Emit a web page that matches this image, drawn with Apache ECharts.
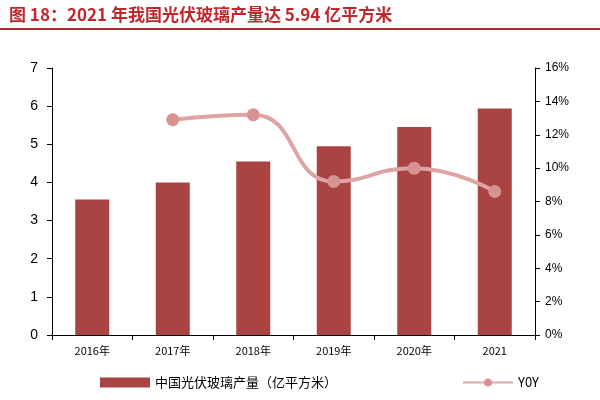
<!DOCTYPE html>
<html><head><meta charset="utf-8">
<script src="https://cdn.jsdelivr.net/npm/echarts@6/dist/echarts.min.js"></script>
<style>body{margin:0}#c{width:600px;height:400px}</style></head>
<body><div id="c"></div>
<script>
const categories = ['2016年','2017年','2018年','2019年','2020年','2021'];
const output = [3.55, 4.0, 4.55, 4.95, 5.45, 5.94];
const yoy = [null, 12.9, 13.2, 9.2, 10.0, 8.6];
const leftTicks = [0,1,2,3,4,5,6,7];
const chart = echarts.init(document.getElementById('c'));
const font = '"Noto Sans CJK SC", sans-serif';
chart.setOption({
  animation:false,
  title:{text:'图 18：2021 年我国光伏玻璃产量达 5.94 亿平方米',left:4,top:1,
    textStyle:{color:'#c0282d',fontSize:17,fontWeight:'bold',fontFamily:font}},
  graphic:[{type:'line',shape:{x1:0,y1:29,x2:600,y2:29},style:{stroke:'#a52a2a',lineWidth:2}}],
  grid:{left:52,right:65,top:68,bottom:65},
  legend:{bottom:6,left:95,itemGap:125,textStyle:{fontSize:13,fontFamily:font,color:'#000'},
    data:[{name:'中国光伏玻璃产量（亿平方米）',icon:'rect'},{name:'Y0Y'}],itemWidth:50,itemHeight:10},
  xAxis:{type:'category',data:categories,
    axisLine:{lineStyle:{color:'#000'}},axisTick:{show:true,length:5,lineStyle:{color:'#000'}},
    axisLabel:{color:'#000',fontSize:11,fontFamily:font,margin:10}},
  yAxis:[{type:'value',min:0,max:leftTicks[leftTicks.length-1],interval:1,
    axisLine:{show:true,lineStyle:{color:'#000'}},axisTick:{show:true,lineStyle:{color:'#000'}},
    splitLine:{show:false},axisLabel:{color:'#000',fontSize:14,margin:14}},
   {type:'value',min:0,max:16,interval:2,
    axisLine:{show:true,lineStyle:{color:'#000'}},axisTick:{show:true,lineStyle:{color:'#000'}},
    splitLine:{show:false},axisLabel:{color:'#000',fontSize:12,formatter:'{value}%',margin:10}}],
  series:[
    {name:'中国光伏玻璃产量（亿平方米）',type:'bar',data:output,barWidth:34,itemStyle:{color:'#a94442'}},
    {name:'Y0Y',type:'line',yAxisIndex:1,data:yoy,smooth:true,symbol:'circle',symbolSize:13,
     lineStyle:{color:'#dea3a3',width:4},itemStyle:{color:'#d89292'}}
  ]
});
</script></body></html>
